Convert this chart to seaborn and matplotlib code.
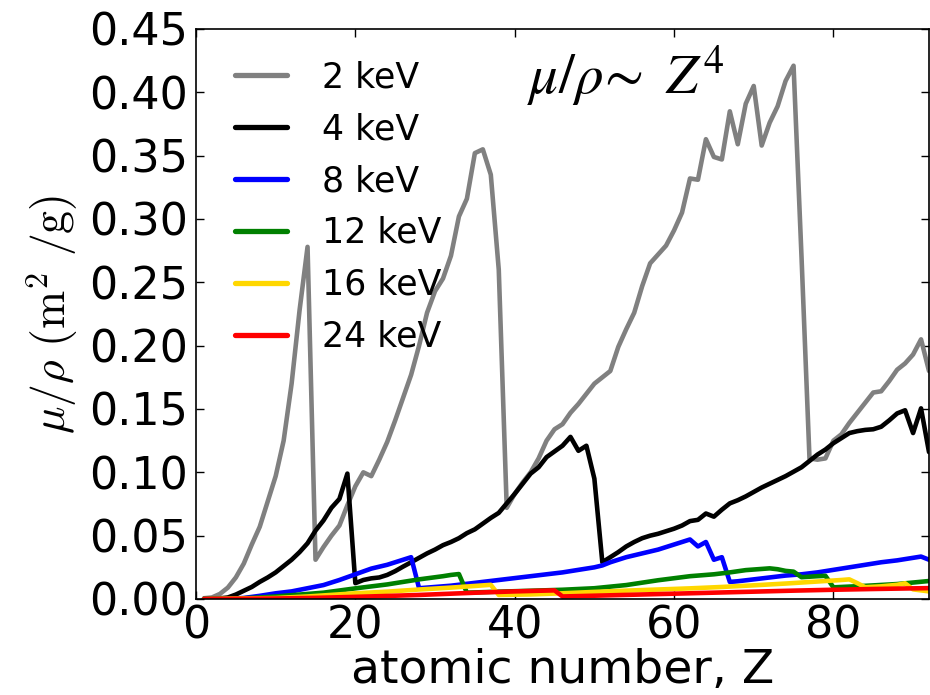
import matplotlib
matplotlib.use("Agg")
import matplotlib.pyplot as plt
import seaborn as sns
import numpy as np
import pandas as pd

# ---------------- data ----------------
labels = ["2 keV", "4 keV", "8 keV", "12 keV", "16 keV", "24 keV"]
colors = ["#808080", "#000000", "#0000ff", "#008000", "#ffd700", "#ff0000"]

z_2kev = list(range(1, 93))
mu_2kev = [0.0006, 0.0012, 0.004, 0.009, 0.017, 0.028, 0.043, 0.057, 0.077, 0.097,
           0.125, 0.170, 0.228, 0.278, 0.031, 0.041, 0.050, 0.058, 0.074, 0.089,
           0.100, 0.097, 0.110, 0.124, 0.141, 0.159, 0.177, 0.200, 0.226, 0.243,
           0.253, 0.271, 0.302, 0.316, 0.352, 0.355, 0.335, 0.260, 0.072, 0.083,
           0.092, 0.100, 0.111, 0.125, 0.134, 0.138, 0.147, 0.154, 0.162, 0.170,
           0.175, 0.180, 0.199, 0.213, 0.226, 0.247, 0.265, 0.272, 0.279, 0.291,
           0.305, 0.332, 0.331, 0.363, 0.349, 0.347, 0.385, 0.359, 0.391, 0.405,
           0.358, 0.376, 0.389, 0.409, 0.421, 0.270, 0.111, 0.110, 0.111, 0.125,
           0.130, 0.139, 0.147, 0.155, 0.163, 0.164, 0.172, 0.181, 0.186, 0.193,
           0.205, 0.180]

z_4kev = list(range(1, 93))
mu_4kev = [0.0001, 0.0002, 0.0005, 0.0012, 0.0035, 0.0065, 0.0095, 0.0135, 0.017, 0.021,
           0.026, 0.031, 0.037, 0.044, 0.054, 0.062, 0.072, 0.079, 0.099, 0.0125,
           0.015, 0.0163, 0.017, 0.019, 0.022, 0.0256, 0.029, 0.0325, 0.036, 0.039,
           0.0425, 0.045, 0.048, 0.052, 0.055, 0.0595, 0.064, 0.068, 0.0755, 0.083,
           0.091, 0.099, 0.104, 0.112, 0.1165, 0.121, 0.128, 0.117, 0.121, 0.095,
           0.029, 0.033, 0.037, 0.0415, 0.045, 0.048, 0.050, 0.0515, 0.0535, 0.0555,
           0.058, 0.0615, 0.0625, 0.0675, 0.065, 0.0705, 0.0755, 0.078, 0.081, 0.0845,
           0.088, 0.091, 0.094, 0.097, 0.1005, 0.104, 0.109, 0.114, 0.118, 0.123,
           0.127, 0.131, 0.1325, 0.1335, 0.134, 0.136, 0.141, 0.1465, 0.149, 0.131,
           0.1505, 0.116]

z_8kev = [1, 4, 6, 8, 10, 12, 14, 16, 18, 20, 22, 24, 25, 26, 27, 28, 30, 32, 34, 36,
          38, 40, 42, 44, 46, 48, 50, 51, 52, 54, 56, 58, 60, 61, 62, 63, 64, 65, 66, 67,
          68, 70, 72, 74, 76, 78, 80, 82, 84, 86, 88, 90, 91, 92]
mu_8kev = [0.0, 0.0002, 0.0008, 0.0025, 0.0045, 0.006, 0.0085, 0.011, 0.015, 0.0195,
           0.024, 0.027, 0.029, 0.031, 0.033, 0.0085, 0.0095, 0.0105, 0.012, 0.0135,
           0.015, 0.0165, 0.018, 0.0195, 0.021, 0.023, 0.025, 0.0265, 0.029, 0.033,
           0.036, 0.039, 0.043, 0.045, 0.047, 0.0415, 0.045, 0.031, 0.033, 0.0135,
           0.014, 0.0155, 0.017, 0.0185, 0.0195, 0.021, 0.023, 0.025, 0.027, 0.029,
           0.0305, 0.0325, 0.0335, 0.031]

z_12kev = [1, 5, 8, 10, 12, 16, 20, 24, 28, 31, 32, 33, 34, 38, 42, 46, 50, 54, 58, 62,
           65, 67, 69, 72, 73, 74, 75, 76, 77, 78, 79, 80, 84, 88, 92]
mu_12kev = [0.0, 0.0003, 0.0012, 0.002, 0.003, 0.005, 0.0084, 0.0115, 0.0155, 0.018,
            0.019, 0.0197, 0.005, 0.0058, 0.0065, 0.0073, 0.0085, 0.011, 0.0148, 0.018,
            0.0195, 0.021, 0.0228, 0.0242, 0.0235, 0.0222, 0.0216, 0.0172, 0.0176, 0.018,
            0.0183, 0.0092, 0.0104, 0.0118, 0.0142]

z_16kev = [1, 10, 14, 20, 24, 28, 32, 35, 37, 38, 42, 46, 50, 54, 58, 62, 66, 70, 74, 78,
           81, 82, 83, 84, 86, 88, 89, 90, 92]
mu_16kev = [0.0, 0.0008, 0.002, 0.0045, 0.0058, 0.0075, 0.009, 0.0103, 0.0112, 0.0032,
            0.0036, 0.0045, 0.0056, 0.0066, 0.0075, 0.0084, 0.0095, 0.0108, 0.0122, 0.0138,
            0.015, 0.0155, 0.0125, 0.0093, 0.010, 0.0112, 0.0124, 0.0076, 0.006]

z_24kev = [1, 10, 15, 20, 24, 28, 32, 36, 40, 43, 45, 46, 50, 55, 60, 65, 70, 75, 80, 85,
           90, 92]
mu_24kev = [0.0, 0.0004, 0.0009, 0.0017, 0.0024, 0.0032, 0.0042, 0.0052, 0.0060, 0.0065,
            0.0068, 0.0020, 0.0026, 0.0034, 0.0042, 0.0050, 0.0058, 0.0066, 0.0073, 0.0079,
            0.0084, 0.0086]

x_ticks = [0, 20, 40, 60, 80]
y_ticks = [0.00, 0.05, 0.10, 0.15, 0.20, 0.25, 0.30, 0.35, 0.40, 0.45]

series = [(z_2kev, mu_2kev), (z_4kev, mu_4kev), (z_8kev, mu_8kev),
          (z_12kev, mu_12kev), (z_16kev, mu_16kev), (z_24kev, mu_24kev)]

# ---------------- style ----------------
sns.set_style("ticks")
plt.rcParams["font.family"] = ["DejaVu Sans"]
plt.rcParams["mathtext.fontset"] = "cm"
plt.rcParams["xtick.direction"] = "in"
plt.rcParams["ytick.direction"] = "in"
plt.rcParams["xtick.top"] = True
plt.rcParams["ytick.right"] = True
plt.rcParams["text.color"] = "black"
plt.rcParams["axes.labelcolor"] = "black"
plt.rcParams["xtick.color"] = "black"
plt.rcParams["ytick.color"] = "black"

fig = plt.figure(figsize=(9.3, 6.95), dpi=100)
ax = fig.add_axes([196 / 930, 96 / 695, 733 / 930, 570 / 695])

for (zs, vals), lab, col in zip(series, labels, colors):
    df = pd.DataFrame({"Z": zs, "mu": vals})
    sns.lineplot(data=df, x="Z", y="mu", ax=ax, color=col, linewidth=3.3,
                 label=lab, estimator=None, sort=False)

ax.set_xlim(0, 92)
ax.set_ylim(0, 0.45)
ax.set_xticks(x_ticks)
ax.set_yticks(y_ticks)
ax.set_yticklabels([f"{v:.2f}" for v in y_ticks])
ax.tick_params(axis="both", which="major", labelsize=32, length=6, width=1,
               color="black", labelcolor="black", pad=6)
ax.tick_params(axis="x", pad=4)
for sp in ax.spines.values():
    sp.set_visible(True)
    sp.set_linewidth(1.2)
    sp.set_color("black")

ax.set_xlabel("atomic number, Z", fontsize=34, labelpad=0, color="black")
ax.set_ylabel(r"$\mu/\rho\ (\mathrm{m}^2\ /\mathrm{g})$", fontsize=33, labelpad=6,
              color="black")

ax.text(0.452, 0.887, r"$\mu/\rho\!\sim\ Z^4$", transform=ax.transAxes,
        fontsize=41, math_fontfamily="stix", ha="left", va="baseline", color="black")

leg = ax.legend(loc="upper left", bbox_to_anchor=(0.053, 0.945), frameon=False,
                fontsize=25, handlelength=1.5, handletextpad=1.0,
                labelspacing=0.515, borderaxespad=0, borderpad=0)
for line in leg.get_lines():
    line.set_linewidth(3.8)
for t in leg.get_texts():
    t.set_color("black")

fig.savefig("out.png", dpi=100)
